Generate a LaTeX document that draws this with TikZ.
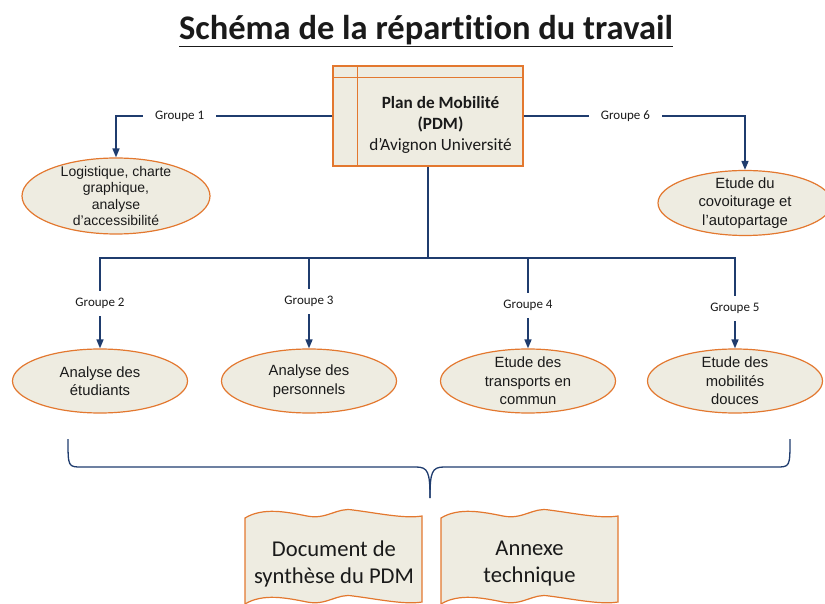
\documentclass[tikz,border=0pt]{standalone}
\usepackage{fontspec}
\setmainfont{Carlito}[RawFeature=-liga]
\newfontfamily\arialfont{Liberation Sans}
\usetikzlibrary{arrows.meta, positioning, shapes.geometric, calc}

\definecolor{tanfill}{HTML}{EEECE1}
\definecolor{orng}{HTML}{E3782F}
\definecolor{navy}{HTML}{1F3C6E}
\definecolor{ink}{HTML}{1A1A1A}

\begin{document}
\begin{tikzpicture}[
  x=1pt, y=-1pt,
  title/.style={font=\fontsize{34.5}{38}\selectfont\bfseries, text=ink, inner sep=0pt},
  mainbox/.style={draw=orng, fill=tanfill, line width=1.2pt, minimum width=190pt, minimum height=100pt, inner sep=0pt},
  boxline/.style={draw=orng, line width=1.2pt},
  boxtxt/.style={font=\fontsize{17.2}{21}\selectfont, text=ink, align=center, inner sep=0pt},
  ell/.style={ellipse, draw=orng, fill=tanfill, line width=1.2pt, minimum width=175pt, minimum height=64pt, inner sep=0pt},
  etxt/.style={font=\arialfont\fontsize{14.8}{18.5}\selectfont, text=ink, align=center, inner sep=0pt},
  etxtsmall/.style={font=\arialfont\fontsize{14}{16.5}\selectfont, text=ink, align=center, inner sep=0pt},
  grp/.style={font=\fontsize{13}{14}\selectfont, text=ink, fill=white, inner xsep=12pt, inner ysep=7pt},
  arr/.style={draw=navy, line width=1.6pt, -{Triangle[length=9pt, width=7pt]}},
  wire/.style={draw=navy, line width=1.6pt},
  docshape/.style={draw=orng, fill=tanfill, line width=1.2pt},
  doctxt/.style={font=\fontsize{22.6}{27}\selectfont, text=ink, align=center, inner sep=0pt}
]
\useasboundingbox (0,0) rectangle (825,604);
\clip (0,0) rectangle (825,604);

\node[title] (ttl) at (426,31) {\underline{Schéma de la répartition du travail}};

% central box
\node[mainbox] (pdm) at (428,116) {};
\draw[boxline] ([yshift=-12pt]pdm.north west) -- ([yshift=-12pt]pdm.north east);
\draw[boxline] ([xshift=25pt]pdm.north west) -- ([xshift=25pt]pdm.south west);
\node[boxtxt] (pdmtxt) at (440.5,125) {\textbf{Plan de Mobilité}\\\textbf{(PDM)}\\d’Avignon Université};

% groups
\node[ell, minimum width=188pt, minimum height=76pt, label={[etxtsmall]center:{Logistique, charte\\graphique,\\analyse\\d’accessibilité}}] (e1) at (116,196) {};
\node[ell, minimum width=174pt, minimum height=65pt, label={[etxt]center:{Etude du\\covoiturage et\\l’autopartage}}] (e6) at (745,203) {};
\node[ell, label={[etxt]center:{Analyse des\\étudiants}}] (e2) at (100,381) {};
\node[ell, label={[etxt]center:{Analyse des\\personnels}}] (e3) at (309,381) {};
\node[ell, label={[etxt]center:{Etude des\\transports en\\commun}}] (e4) at (528,381) {};
\node[ell, label={[etxt]center:{Etude des\\mobilités\\douces}}] (e5) at (735,381) {};

\coordinate (bus) at (428,258);

\draw[arr] (pdm.west) -| node[grp, pos=0.353]{Groupe 1} (e1.north);
\draw[arr] (pdm.east) -| node[grp, pos=0.23]{Groupe 6} (e6.north);
\draw[wire] (pdm.south) -- (bus);
\draw[arr] (bus) -| node[grp, pos=0.753]{Groupe 2} (e2.north);
\draw[arr] (bus) -| node[grp, pos=0.742]{Groupe 3} (e3.north);
\draw[arr] (bus) -| node[grp, pos=0.764]{Groupe 4} (e4.north);
\draw[arr] (bus) -| node[grp, pos=0.78]{Groupe 5} (e5.north);

% brace
\coordinate (brl) at (68,439);
\coordinate (brr) at (790,439);
\coordinate (brtip) at (430,498);
\draw[wire, line width=1.3pt] (brl) .. controls (68,467) and (68,467) .. (82,467) -- (416,467)
  .. controls (428,467) and (430,472) .. (brtip);
\draw[wire, line width=1.3pt] (brr) .. controls (790,467) and (790,467) .. (776,467) -- (444,467)
  .. controls (432,467) and (430,472) .. (brtip);

% documents
\foreach \dx in {245,441}{
  \draw[docshape, shift={(\dx,0)}] (0,518) .. controls (18,507) and (42,512) .. (62,516)
    .. controls (82,520) and (92,507) .. (108,510) .. controls (132,513) and (160,519) .. (177,516)
    -- (177,602) .. controls (160,605) and (132,599) .. (108,596)
    .. controls (92,593) and (82,606) .. (62,602) .. controls (42,598) and (18,593) .. (0,604) -- cycle;
}
\node[doctxt] (doc1) at (334,564) {Document de\\synthèse du PDM};
\node[doctxt] (doc2) at (529.5,564) {Annexe\\technique};
\end{tikzpicture}
\end{document}
